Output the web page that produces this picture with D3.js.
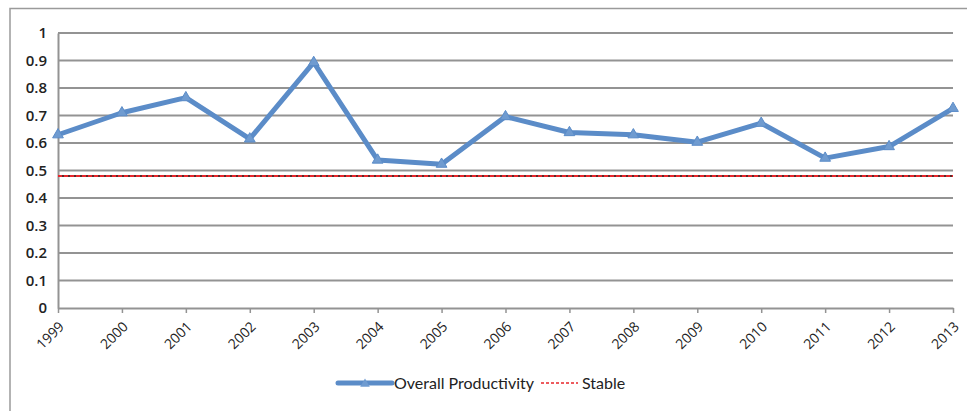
<!DOCTYPE html>
<html>
<head>
<meta charset="utf-8">
<script src="https://cdn.jsdelivr.net/npm/d3@7"></script>
<style>
  html, body { margin: 0; padding: 0; background: #fff; }
  svg { display: block; }
</style>
</head>
<body>
<svg id="chart" width="967" height="411"></svg>
<script>
const years = ["1999","2000","2001","2002","2003","2004","2005","2006","2007","2008","2009","2010","2011","2012","2013"];
const productivity = [0.63,0.71,0.765,0.615,0.893,0.538,0.523,0.696,0.638,0.63,0.603,0.672,0.545,0.587,0.726];
const stable = [0.48,0.48,0.48,0.48,0.48,0.48,0.48,0.48,0.48,0.48,0.48,0.48,0.48,0.48,0.48];
const yTicks = [0,0.1,0.2,0.3,0.4,0.5,0.6,0.7,0.8,0.9,1];
const seriesNames = ["Overall Productivity","Stable"];

(function() {
const svg = d3.select("#chart");
const W = 967, H = 411;
const mLeft = 58, mRight = 953, mTop = 33, mBottom = 308;

// outer frame
svg.append("path")
  .attr("d", `M10,${H} L10,8.5 L${W},8.5`)
  .attr("fill","none").attr("stroke","#9a9a9a").attr("stroke-width",1.5);

const x = d3.scalePoint().domain(years).range([mLeft, mRight]);
const y = d3.scaleLinear().domain([0,1]).range([mBottom, mTop]);

// gridlines
svg.append("g").selectAll("line").data(yTicks.filter(d => d > 0)).join("line")
  .attr("x1", mLeft).attr("x2", mRight)
  .attr("y1", d => y(d)).attr("y2", d => y(d))
  .attr("stroke","#939393").attr("stroke-width",2);

// y axis
const yAxis = svg.append("g").attr("transform",`translate(${mLeft},0)`)
  .call(d3.axisLeft(y).tickValues(yTicks).tickFormat(d => String(+d.toFixed(1))).tickSize(0).tickPadding(11));
yAxis.select(".domain").attr("stroke","#939393").attr("stroke-width",2);
yAxis.selectAll("text").attr("font-family","'Open Sans', sans-serif").attr("font-size",15).attr("fill","#222").attr("font-weight",600);

// x axis
const xAxis = svg.append("g").attr("transform",`translate(0,${mBottom})`)
  .call(d3.axisBottom(x).tickSize(5).tickSizeOuter(0));
xAxis.select(".domain").attr("stroke","#939393").attr("stroke-width",2);
xAxis.selectAll(".tick line").attr("stroke","#939393").attr("stroke-width",1.5);
xAxis.selectAll("text")
  .attr("font-family","'Open Sans', sans-serif").attr("font-size",14).attr("fill","#222")
  .attr("text-anchor","end").attr("dy","0.35em")
  .attr("transform","translate(3,16) rotate(-45)")
  .attr("x",0).attr("y",0);

// stable line
const line = d3.line().x((d,i) => x(years[i])).y(d => y(d));
svg.append("path").datum(stable).attr("d", line)
  .attr("fill","none").attr("stroke","#5a2a2a").attr("stroke-width",2);
svg.append("path").datum(stable).attr("d", line)
  .attr("fill","none").attr("stroke","#e8262b").attr("stroke-width",2).attr("stroke-dasharray","4,2");

// productivity line
const blue = "#5b8cc8";
svg.append("path").datum(productivity).attr("d", line)
  .attr("fill","none").attr("stroke",blue).attr("stroke-width",5).attr("stroke-linejoin","round");
const tri = d3.symbol().type(d3.symbolTriangle).size(50);
svg.append("g").selectAll("path").data(productivity).join("path")
  .attr("d", tri)
  .attr("transform",(d,i) => `translate(${x(years[i])},${y(d)})`)
  .attr("fill", "#6f9bd0").attr("stroke", blue).attr("stroke-width",1);

// legend
const lg = svg.append("g").attr("font-family","Lato, sans-serif").attr("font-size",16).attr("fill","#222");
lg.append("line").attr("x1",338).attr("x2",392).attr("y1",383).attr("y2",383)
  .attr("stroke",blue).attr("stroke-width",5).attr("stroke-linecap","round");
lg.append("path").attr("d", d3.symbol().type(d3.symbolTriangle).size(40))
  .attr("transform","translate(365,384)").attr("fill","#6f9bd0");
lg.append("text").attr("x",394).attr("y",389).text(seriesNames[0]);
lg.append("line").attr("x1",541).attr("x2",578).attr("y1",383).attr("y2",383)
  .attr("stroke","#e8262b").attr("stroke-width",1.5).attr("stroke-dasharray","3,2");
lg.append("text").attr("x",582).attr("y",389).text(seriesNames[1]);
})();
</script>
</body>
</html>
